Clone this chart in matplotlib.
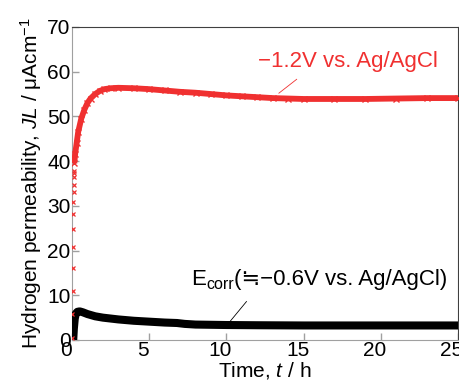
import matplotlib
matplotlib.use("Agg")
import matplotlib.pyplot as plt
import matplotlib.transforms as mtransforms

plt.rcParams['font.family'] = ['Liberation Sans', 'DejaVu Sans']
plt.rcParams['mathtext.fontset'] = 'custom'
plt.rcParams['mathtext.rm'] = 'Liberation Sans'
plt.rcParams['mathtext.it'] = 'Liberation Sans:italic'

# -1.2 V: first points (sparse markers) during the initial jump
red_rise_t = [0.02, 0.03, 0.04, 0.05, 0.06, 0.07, 0.08, 0.09, 0.10, 0.11, 0.12, 0.13, 0.14]
red_rise_v = [0.5, 5.8, 11.0, 16.1, 20.8, 24.8, 28.2, 30.9, 33.1, 34.7, 36.5, 37.4, 37.8]

# -1.2 V: dense part of the curve
red_t = [0.15, 0.2, 0.3, 0.4, 0.6, 0.8, 1.0, 1.2, 1.5, 1.8, 2.1, 2.5, 3.0, 4.0, 5.0,
         6.0, 7.0, 8.0, 9.0, 10.0, 11.0, 12.0, 13.0, 14.0, 15.0, 17.0, 19.0, 21.0,
         23.0, 25.0]
red_v = [39.5, 41.5, 44.0, 46.5, 49.5, 51.5, 53.0, 54.0, 55.0, 55.7, 56.1, 56.3, 56.4,
         56.3, 56.1, 55.8, 55.5, 55.3, 55.0, 54.7, 54.5, 54.3, 54.1, 54.0, 53.9, 53.9,
         53.9, 54.0, 54.1, 54.1]

# Ecorr (~ -0.6 V)
blk_t = [0.0, 0.08, 0.12, 0.18, 0.25, 0.35, 0.5, 0.7, 1.0, 1.5, 2.0, 3.0, 4.0, 5.0,
         6.0, 6.8, 7.3, 8.0, 9.0, 10.0, 12.0, 15.0, 18.0, 21.0, 25.0]
blk_v = [0.0, 0.0, 2.5, 4.8, 5.9, 6.3, 6.4, 6.2, 5.8, 5.3, 5.0, 4.6, 4.3, 4.1,
         3.9, 3.8, 3.6, 3.45, 3.4, 3.35, 3.3, 3.25, 3.25, 3.25, 3.25]

red = '#f03030'

fig = plt.figure(figsize=(4.6, 3.85), dpi=100)
ax = fig.add_axes([0.1565, 0.1169, 0.8392, 0.813])

ax.plot(blk_t, blk_v, color='black', lw=5.8, solid_capstyle='butt', zorder=3)
ax.plot(red_t, red_v, color=red, lw=4.2, solid_capstyle='butt', zorder=3)
ax.plot(red_t, red_v, ls='none', marker='x', ms=4, mew=1, color=red, zorder=3)
ax.plot(red_rise_t, red_rise_v, ls='none', marker='x', ms=3, mew=0.9, color=red, zorder=3)

ax.set_xlim(0, 25)
ax.set_ylim(0, 70)
ax.set_xticks([0, 5, 10, 15, 20, 25])
ax.set_yticks([0, 10, 20, 30, 40, 50, 60, 70])

for side in ['left', 'bottom']:
    ax.spines[side].set_color('#a0a0a0')
for side in ['top', 'right']:
    ax.spines[side].set_color('#404040')
ax.tick_params(direction='in', length=5, width=1, color='#a0a0a0',
               labelsize=15, pad=1)

# x tick labels sit a little left of their ticks in the original
shift = mtransforms.ScaledTranslation(-6 / 100, 0, fig.dpi_scale_trans)
for lab in ax.get_xticklabels():
    lab.set_transform(lab.get_transform() + shift)

ax.set_xlabel('Time, $t$ / h', fontsize=15, labelpad=0)
ax.set_ylabel('Hydrogen permeability, $JL$ / μAcm$^{-1}$', fontsize=15, labelpad=2)

# labels and leader lines
ax.text(17.9, 61.1, '−1.2V vs. Ag/AgCl', color=red, fontsize=16,
        ha='center', va='baseline')
ax.plot([13.4, 14.55], [55.2, 58.3], color=red, lw=0.6)

# E_corr label built from pieces (plain text so ≒ can fall back to DejaVu Sans)
t1 = ax.text(7.7, 12.3, 'E', color='black', fontsize=16, ha='left', va='baseline')
t2 = ax.annotate('corr', xy=(1, 0), xycoords=t1, xytext=(0.3, -1.5),
                 textcoords='offset points', fontsize=11.5, ha='left', va='bottom')
ax.annotate('(≒−0.6V vs. Ag/AgCl)', xy=(1, 0), xycoords=(t2, t1),
            xytext=(0.3, 0), textcoords='offset points', fontsize=16,
            ha='left', va='bottom')
ax.plot([10.2, 11.3], [4.0, 8.6], color='black', lw=0.6)

fig.savefig('out.png', dpi=100)
